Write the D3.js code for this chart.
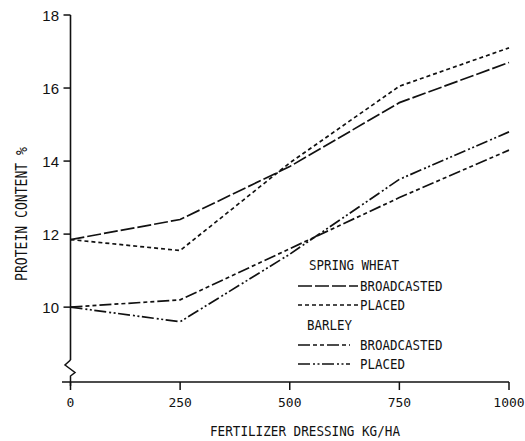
<!doctype html>
<html>
<head>
    <title>Protein content</title>
    <style>
        body { margin: 0; background: #fff; }
        .mono { font-family: "DejaVu Sans Mono", monospace; fill: #111; }
        .sans { font-family: "Liberation Sans", Arial, sans-serif; fill: #111; }
    </style>
</head>
<body>
    <div id="chart"></div>

    <script src="https://d3js.org/d3.v7.min.js"></script>
    <script>
        // data
        var dressing = [0, 250, 500, 750, 1000];
        var wheatBroadcasted = [11.85, 12.4, 13.85, 15.6, 16.7];
        var wheatPlaced = [11.85, 11.55, 13.95, 16.05, 17.1];
        var barleyBroadcasted = [10.0, 10.2, 11.6, 13.0, 14.3];
        var barleyPlaced = [10.0, 9.6, 11.45, 13.5, 14.8];

        var xTicks = [0, 250, 500, 750, 1000];
        var xTickLabels = ["0", "250", "500", "750", "1000"];
        var yTicks = [10, 12, 14, 16, 18];

        var series = [
            {name: "BROADCASTED", values: wheatBroadcasted, dash: "14,3"},
            {name: "PLACED", values: wheatPlaced, dash: "4,3"},
            {name: "BROADCASTED", values: barleyBroadcasted, dash: "12,3,4,3,4,3"},
            {name: "PLACED", values: barleyPlaced, dash: "12,3,2,2.5,2,2.5"}
        ];

        var width = 525, height = 441;

        var svg = d3.select("#chart")
            .append("svg")
            .attr("width", width)
            .attr("height", height);

        var x = d3.scaleLinear().domain([0, 1000]).range([70.5, 509]);
        var y = d3.scaleLinear().domain([7.95, 18]).range([382, 15]);

        // x axis
        svg.append("line")
            .attr("x1", 62).attr("x2", x(1000))
            .attr("y1", y(7.95)).attr("y2", y(7.95))
            .attr("stroke", "#111").attr("stroke-width", 1.6);

        svg.selectAll(".xtick")
            .data(xTicks)
            .enter().append("line")
            .attr("x1", function(d) { return x(d); })
            .attr("x2", function(d) { return x(d); })
            .attr("y1", y(7.95))
            .attr("y2", y(7.95) + 8)
            .attr("stroke", "#111").attr("stroke-width", 1.5);

        svg.selectAll(".xlab")
            .data(xTicks)
            .enter().append("text")
            .attr("class", "mono")
            .attr("x", function(d) { return x(d); })
            .attr("y", 407)
            .attr("text-anchor", "middle")
            .style("font-size", "13px")
            .text(function(d, i) { return xTickLabels[i]; });

        // y axis with break
        var brk = [[0, 360], [-5.5, 365], [4.5, 372.5], [0, 376], [0, 386]];
        svg.append("line")
            .attr("x1", x(0)).attr("x2", x(0))
            .attr("y1", y(18)).attr("y2", 360)
            .attr("stroke", "#111").attr("stroke-width", 1.6);
        svg.append("path")
            .attr("d", d3.line()(brk.map(function(p) { return [x(0) + p[0], p[1]]; })))
            .attr("fill", "none")
            .attr("stroke", "#111").attr("stroke-width", 1.5);

        svg.selectAll(".ytick")
            .data(yTicks)
            .enter().append("line")
            .attr("x1", x(0) - 7)
            .attr("x2", x(0))
            .attr("y1", function(d) { return y(d); })
            .attr("y2", function(d) { return y(d); })
            .attr("stroke", "#111").attr("stroke-width", 1.5);

        svg.selectAll(".ylab")
            .data(yTicks)
            .enter().append("text")
            .attr("class", "sans")
            .attr("x", 59)
            .attr("y", function(d) { return y(d) + 5.5; })
            .attr("text-anchor", "end")
            .style("font-size", "15px")
            .text(function(d) { return d; });

        // axis titles
        svg.append("text")
            .attr("class", "mono")
            .attr("x", 305)
            .attr("y", 436)
            .attr("text-anchor", "middle")
            .attr("textLength", 190)
            .attr("lengthAdjust", "spacingAndGlyphs")
            .style("font-size", "14.5px")
            .text("FERTILIZER DRESSING KG/HA");

        svg.append("text")
            .attr("class", "mono")
            .attr("transform", "translate(27,214) rotate(-90)")
            .attr("text-anchor", "middle")
            .attr("textLength", 134)
            .attr("lengthAdjust", "spacingAndGlyphs")
            .style("font-size", "15px")
            .text("PROTEIN CONTENT %");

        // lines
        var line = d3.line()
            .x(function(d, i) { return x(dressing[i]); })
            .y(function(d) { return y(d); });

        svg.selectAll(".series")
            .data(series)
            .enter().append("path")
            .attr("d", function(s) { return line(s.values); })
            .attr("fill", "none")
            .attr("stroke", "#111")
            .attr("stroke-width", 1.7)
            .attr("stroke-dasharray", function(s) { return s.dash; });

        // legend
        var legendRows = [
            {label: "SPRING WHEAT", y: 270, x: 309},
            {label: "BROADCASTED", y: 291, x: 360, s: 0, x2: 358},
            {label: "PLACED", y: 310, x: 360, s: 1, x2: 358},
            {label: "BARLEY", y: 330, x: 307},
            {label: "BROADCASTED", y: 350, x: 360, s: 2, x2: 350},
            {label: "PLACED", y: 369, x: 360, s: 3, x2: 350}
        ];

        svg.selectAll(".legtext")
            .data(legendRows)
            .enter().append("text")
            .attr("class", "mono")
            .attr("x", function(d) { return d.x; })
            .attr("y", function(d) { return d.y; })
            .attr("textLength", function(d) { return d.label.length * 7.5; })
            .attr("lengthAdjust", "spacingAndGlyphs")
            .style("font-size", "14px")
            .text(function(d) { return d.label; });

        svg.selectAll(".legline")
            .data(legendRows.filter(function(d) { return d.s !== undefined; }))
            .enter().append("line")
            .attr("x1", 298)
            .attr("x2", function(d) { return d.x2; })
            .attr("y1", function(d) { return d.y - 5; })
            .attr("y2", function(d) { return d.y - 5; })
            .attr("stroke", "#111")
            .attr("stroke-width", 1.6)
            .attr("stroke-dasharray", function(d) { return series[d.s].dash; });
    </script>
</body>
</html>
